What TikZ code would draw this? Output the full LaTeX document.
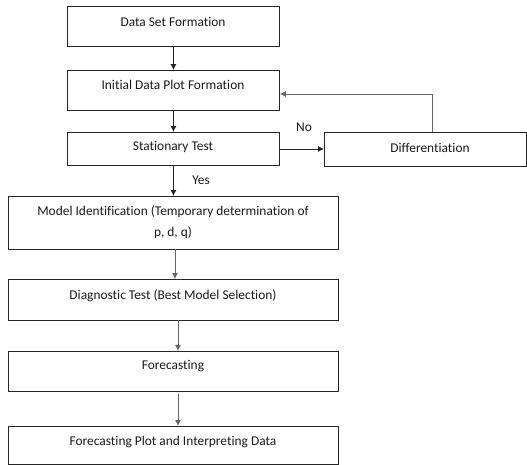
\documentclass[tikz,border=0pt]{standalone}
\usepackage{fontspec}
\setmainfont{Carlito}[Ligatures=NoCommon]
\usetikzlibrary{arrows.meta}
\begin{document}
\begin{tikzpicture}[x=1pt,y=-1pt,
  box/.style={draw=black!85, line width=0.9pt, inner sep=0pt, anchor=north west},
  txt/.style={font=\fontsize{13.4}{16.5}\selectfont, text=black!90, inner sep=0pt, anchor=center},
  flow/.style={draw=black!85, line width=0.8pt, -{Latex[length=6pt,width=6pt]}},
  flowgray/.style={draw=black!60, line width=0.8pt, -{Latex[length=6pt,width=6pt]}}]
\useasboundingbox (0,0) rectangle (527,464);

% boxes (pixel geometry: minimum width / height)
\node[box, minimum width=212pt, minimum height=40pt] (b1) at (67,6) {};
\node[box, minimum width=212pt, minimum height=40pt] (b2) at (67,70) {};
\node[box, minimum width=212pt, minimum height=33pt] (b3) at (67,132) {};
\node[box, minimum width=202pt, minimum height=34pt] (bd) at (324,132) {};
\node[box, minimum width=330pt, minimum height=53pt] (b4) at (8,196) {};
\node[box, minimum width=330pt, minimum height=41pt] (b5) at (8,279) {};
\node[box, minimum width=330pt, minimum height=40pt] (b6) at (8,351) {};
\node[box, minimum width=330pt, minimum height=38pt] (b7) at (8,426) {};

% box texts
\node[txt] (t1) at (173,22) {Data Set Formation};
\node[txt] (t2) at (173,85) {Initial Data Plot Formation};
\node[txt] (t3) at (173,147) {Stationary Test};
\node[txt] (td) at (430,148) {Differentiation};
\node[txt] (t4a) at (173,212) {Model Identification (Temporary determination of};
\node[txt] (t4b) at (173,233) {p, d, q)};
\node[txt] (t5) at (173,296) {Diagnostic Test (Best Model Selection)};
\node[txt] (t6) at (173,366) {Forecasting};
\node[txt] (t7) at (173,442) {Forecasting Plot and Interpreting Data};

% decision labels
\node[txt] (no) at (304,127) {No};
\node[txt] (yes) at (201,180) {Yes};

% main flow
\draw[flow] (b1.south) -- (b2.north);
\draw[flow] (b2.south) -- (b3.north);
\draw[flow] (b3.south) -- (b4.north);
\draw[flow] (b3.east) -- (b3.east -| bd.west);
\coordinate (c1) at (175,249);
\coordinate (c2) at (175,279);
\draw[flowgray] (c1) -- (c2);
\coordinate (c3) at (178,320);
\coordinate (c4) at (178,351);
\draw[flowgray] (c3) -- (c4);
\coordinate (c5) at (178,394);
\coordinate (c6) at (178,426);
\draw[flowgray] (c5) -- (c6);

% feedback loop from differentiation
\coordinate (fb) at (432,94);
\draw[flowgray] (bd.north -| fb) -- (fb) -- (fb -| b2.east);
\end{tikzpicture}
\end{document}
